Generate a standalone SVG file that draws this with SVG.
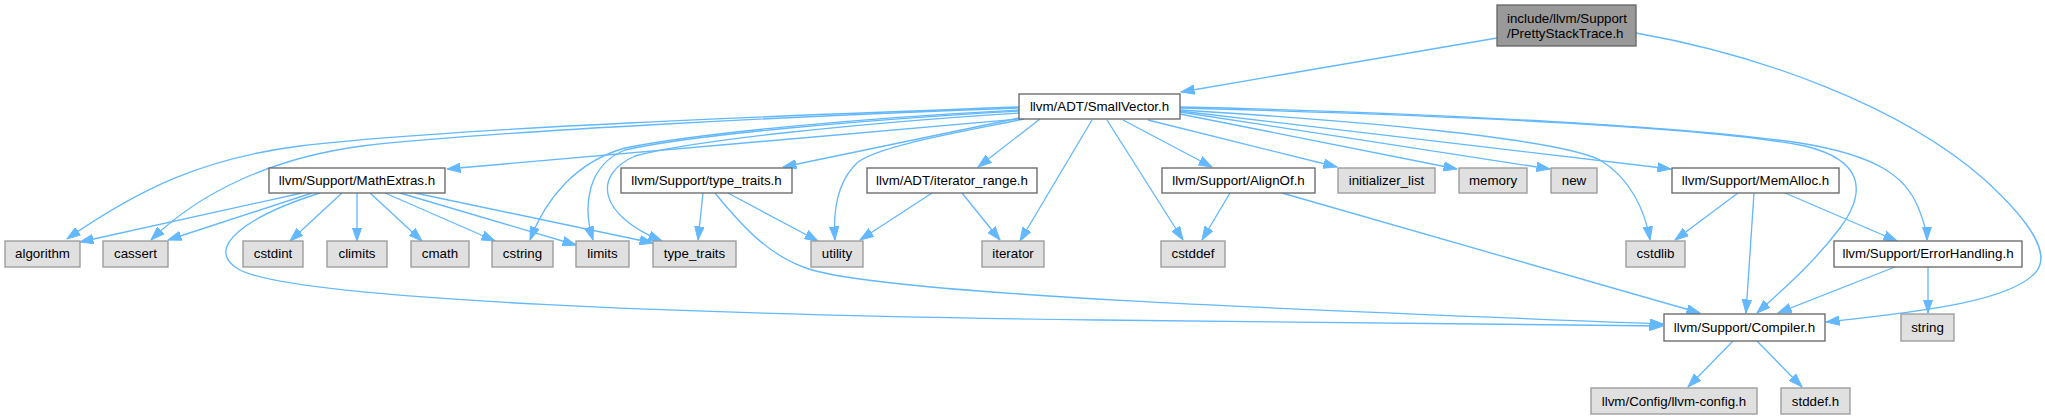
<svg xmlns="http://www.w3.org/2000/svg" width="2045" height="420" viewBox="0 0 2045 420">
<style>
.n rect{fill:#ffffff;stroke:#666666;stroke-width:1.33}
.g rect{fill:#e0e0e0;stroke:#999999;stroke-width:1.33}
.top rect{fill:#999999;stroke:#666666;stroke-width:1.33}
text{font-family:"Liberation Sans",Arial,Helvetica,sans-serif;font-size:13.33px;fill:#000000;text-anchor:middle}
.top text{text-anchor:start}
#edges path{fill:none;stroke:#63b8ff;stroke-width:1.33;marker-end:url(#ah)}
</style>
<defs>
<marker id="ah" markerUnits="userSpaceOnUse" markerWidth="14" markerHeight="10" viewBox="0 0 14 10" refX="13.5" refY="5" orient="auto">
<path d="M0,0.3 L13.5,5 L0,9.7 z" fill="#63b8ff" stroke="#63b8ff" stroke-width="1"/>
</marker>
</defs>
<rect width="2045" height="420" fill="#ffffff"/>
<g id="edges">
<path d="M1497,38 L1181,92"/>
<path d="M1636,33 C1760,55 1900,105 1985,180 C2035,226 2050,255 2036,272 C2012,300 1930,311 1826,322"/>
<path d="M1019,107 C800,115 450,128 300,146 C205,158 140,188 67,239"/>
<path d="M1019,108 C800,116 480,132 362,146 C272,158 200,192 151,240"/>
<path d="M1019,119 L447,169"/>
<path d="M1019,110 C860,118 700,133 625,148 C575,162 545,200 530,240"/>
<path d="M1019,111 C860,120 690,135 625,150 C588,165 582,205 593,240"/>
<path d="M1019,113 C860,123 695,140 635,156 C592,175 598,215 662,241"/>
<path d="M1019,118 L783,167"/>
<path d="M1024,119 C950,134 880,146 858,162 C836,182 833,212 835,240"/>
<path d="M1040,119 L978,167"/>
<path d="M1092,120 L1020,241"/>
<path d="M1107,120 L1183,240"/>
<path d="M1123,120 L1212,167"/>
<path d="M1148,120 L1337,167"/>
<path d="M1180,114 L1457,169"/>
<path d="M1180,112 L1550,169"/>
<path d="M1180,111 L1671,169"/>
<path d="M1180,110 C1350,120 1555,138 1600,160 C1630,178 1645,210 1650,240"/>
<path d="M1180,108 C1400,114 1700,125 1805,146 C1862,160 1868,190 1840,228 C1812,265 1780,292 1757,313"/>
<path d="M1180,107 C1450,113 1700,128 1800,143 C1880,156 1906,178 1918,207 C1924,222 1927,232 1927,240"/>
<path d="M302,193 L80,242"/>
<path d="M312,193 L168,240"/>
<path d="M320,193 C250,215 200,248 240,270 C300,300 700,315 1100,320 C1400,323 1550,325 1663,326"/>
<path d="M342,193 L290,241"/>
<path d="M357,193 L357,241"/>
<path d="M370,193 L422,241"/>
<path d="M385,193 L495,241"/>
<path d="M400,193 L576,245"/>
<path d="M415,193 L653,243"/>
<path d="M703,193 L698,240"/>
<path d="M728,193 L818,241"/>
<path d="M715,193 C745,230 772,258 812,270 C900,295 1300,310 1663,324"/>
<path d="M932,193 L860,240"/>
<path d="M962,193 L1000,240"/>
<path d="M1230,193 L1202,240"/>
<path d="M1282,193 L1700,313"/>
<path d="M1738,193 L1675,240"/>
<path d="M1754,193 L1746,313"/>
<path d="M1785,193 L1897,241"/>
<path d="M1895,267 L1778,313"/>
<path d="M1928,267 L1928,313"/>
<path d="M1733,341 L1688,387"/>
<path d="M1757,341 L1802,387"/>
</g>
<g id="node-pretty" class="top"><rect x="1497" y="5" width="139" height="41"/><text x="1507" y="23">include/llvm/Support</text><text x="1507" y="38">/PrettyStackTrace.h</text></g>
<g id="node-smallvector" class="n"><rect x="1019" y="94" width="161" height="25"/><text x="1099.5" y="111">llvm/ADT/SmallVector.h</text></g>
<g id="node-mathextras" class="n"><rect x="269" y="168" width="176" height="25"/><text x="357" y="185">llvm/Support/MathExtras.h</text></g>
<g id="node-typetraits-h" class="n"><rect x="621" y="168" width="171" height="25"/><text x="706.5" y="185">llvm/Support/type_traits.h</text></g>
<g id="node-iterator-range" class="n"><rect x="867" y="168" width="170" height="25"/><text x="952" y="185">llvm/ADT/iterator_range.h</text></g>
<g id="node-alignof" class="n"><rect x="1162" y="168" width="153" height="25"/><text x="1238.5" y="185">llvm/Support/AlignOf.h</text></g>
<g id="node-initializer-list" class="g"><rect x="1338" y="168" width="97" height="25"/><text x="1386.5" y="185">initializer_list</text></g>
<g id="node-memory" class="g"><rect x="1459" y="168" width="68" height="25"/><text x="1493" y="185">memory</text></g>
<g id="node-new" class="g"><rect x="1551" y="168" width="46" height="25"/><text x="1574" y="185">new</text></g>
<g id="node-memalloc" class="n"><rect x="1672" y="168" width="167" height="25"/><text x="1755.5" y="185">llvm/Support/MemAlloc.h</text></g>
<g id="node-algorithm" class="g"><rect x="5" y="241" width="75" height="26"/><text x="42.5" y="258">algorithm</text></g>
<g id="node-cassert" class="g"><rect x="103" y="241" width="65" height="26"/><text x="135.5" y="258">cassert</text></g>
<g id="node-cstdint" class="g"><rect x="243" y="241" width="60" height="26"/><text x="273" y="258">cstdint</text></g>
<g id="node-climits" class="g"><rect x="327" y="241" width="60" height="26"/><text x="357" y="258">climits</text></g>
<g id="node-cmath" class="g"><rect x="411" y="241" width="58" height="26"/><text x="440" y="258">cmath</text></g>
<g id="node-cstring" class="g"><rect x="492" y="241" width="61" height="26"/><text x="522.5" y="258">cstring</text></g>
<g id="node-limits" class="g"><rect x="576" y="241" width="53" height="26"/><text x="602.5" y="258">limits</text></g>
<g id="node-type-traits" class="g"><rect x="653" y="241" width="83" height="26"/><text x="694.5" y="258">type_traits</text></g>
<g id="node-utility" class="g"><rect x="811" y="241" width="52" height="26"/><text x="837" y="258">utility</text></g>
<g id="node-iterator" class="g"><rect x="982" y="241" width="62" height="26"/><text x="1013" y="258">iterator</text></g>
<g id="node-cstddef" class="g"><rect x="1161" y="241" width="64" height="26"/><text x="1193" y="258">cstddef</text></g>
<g id="node-cstdlib" class="g"><rect x="1626" y="241" width="59" height="26"/><text x="1655.5" y="258">cstdlib</text></g>
<g id="node-errorhandling" class="n"><rect x="1834" y="241" width="188" height="26"/><text x="1928" y="258">llvm/Support/ErrorHandling.h</text></g>
<g id="node-compiler" class="n"><rect x="1664" y="314" width="161" height="27"/><text x="1744.5" y="332">llvm/Support/Compiler.h</text></g>
<g id="node-string" class="g"><rect x="1901" y="314" width="53" height="27"/><text x="1927.5" y="332">string</text></g>
<g id="node-llvm-config" class="g"><rect x="1591" y="388" width="166" height="26"/><text x="1674" y="406">llvm/Config/llvm-config.h</text></g>
<g id="node-stddef" class="g"><rect x="1781" y="388" width="69" height="26"/><text x="1815.5" y="406">stddef.h</text></g>
</svg>
